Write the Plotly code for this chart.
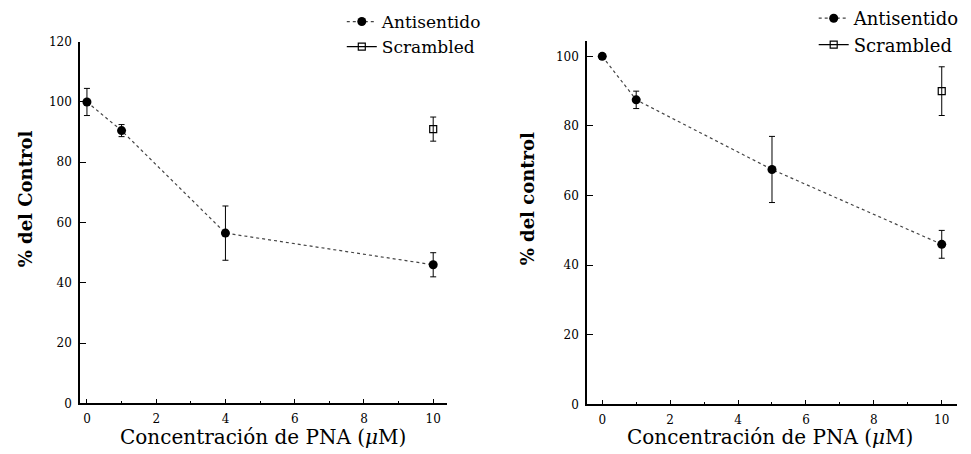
import plotly.graph_objects as go

# Left panel data
left_x_anti = [0, 1, 4, 10]
left_y_anti = [100, 90.5, 56.5, 46]
left_err_anti = [4.5, 2, 9, 4]
left_x_scr = [10]
left_y_scr = [91]
left_err_scr = [4]

# Right panel data
right_x_anti = [0, 1, 5, 10]
right_y_anti = [100, 87.5, 67.5, 46]
right_err_anti = [0.8, 2.5, 9.5, 4]
right_x_scr = [10]
right_y_scr = [90]
right_err_scr = [7]

series_names = ["Antisentido", "Scrambled"]
x_title = "Concentración de PNA (<i>μ</i>M)"
left_y_title = "% del Control"
right_y_title = "% del control"

SERIF = "DejaVu Serif, Liberation Serif, serif"
fig = go.Figure()

def add_panel(xa, ya, xs, ys, ea, es, xref, yref, legend):
    fig.add_trace(go.Scatter(
        x=xa, y=ya, mode="lines+markers", xaxis=xref, yaxis=yref,
        name=series_names[0], legend=legend,
        line=dict(color="#444444", width=1.2, dash="dot"),
        marker=dict(symbol="circle", size=9, color="black"),
        error_y=dict(type="data", array=ea, visible=True, color="black", thickness=1, width=3),
        cliponaxis=False))
    fig.add_trace(go.Scatter(
        x=xs, y=ys, mode="lines+markers", xaxis=xref, yaxis=yref,
        name=series_names[1], legend=legend,
        line=dict(color="black", width=1.2),
        marker=dict(symbol="square-open", size=7, color="black", line=dict(width=1.2)),
        error_y=dict(type="data", array=es, visible=True, color="black", thickness=1, width=3),
        cliponaxis=False))

add_panel(left_x_anti, left_y_anti, left_x_scr, left_y_scr, left_err_anti, left_err_scr, "x", "y", "legend")
add_panel(right_x_anti, right_y_anti, right_x_scr, right_y_scr, right_err_anti, right_err_scr, "x2", "y2", "legend2")

def xaxis_cfg(domain, rng):
    return dict(domain=domain, range=rng, showline=True, linecolor="black", linewidth=1.5,
                ticks="inside", ticklen=5, tickcolor="black", tickvals=[0, 2, 4, 6, 8, 10],
                minor=dict(ticks="inside", ticklen=3, dtick=1, tickcolor="black"),
                showgrid=False, zeroline=False, tickfont=dict(family=SERIF, size=12, color="black"),
                ticklabelstandoff=3, automargin=False)

def yaxis_cfg(domain, rng, anchor, tickvals):
    return dict(domain=domain, range=rng, anchor=anchor, showline=True, linecolor="black", linewidth=1.5,
                ticks="inside", ticklen=6, tickcolor="black", tickvals=tickvals,
                showgrid=False, zeroline=False, tickfont=dict(family=SERIF, size=12, color="black"),
                ticklabelstandoff=4, automargin=False)

fig.update_layout(
    width=971, height=454, margin=dict(l=0, r=0, t=0, b=0),
    paper_bgcolor="white", plot_bgcolor="white",
    xaxis=dict(**xaxis_cfg([0.0824, 0.4604], [-0.2, 10.4]), anchor="y"),
    yaxis=yaxis_cfg([0.1123, 0.9163], [0, 120], "x", [0, 20, 40, 60, 80, 100, 120]),
    xaxis2=dict(**xaxis_cfg([0.6045, 0.9856], [-0.45, 10.45]), anchor="y2"),
    yaxis2=yaxis_cfg([0.1101, 0.9185], [0, 104.5], "x2", [0, 20, 40, 60, 80, 100]),
    legend=dict(x=0.352, y=1.0, xanchor="left", yanchor="top", bgcolor="rgba(0,0,0,0)",
                font=dict(family=SERIF, size=17, color="black"), tracegroupgap=0, itemwidth=30),
    legend2=dict(x=0.838, y=1.01, xanchor="left", yanchor="top", bgcolor="rgba(0,0,0,0)",
                 font=dict(family=SERIF, size=18, color="black"), tracegroupgap=0, itemwidth=30),
    annotations=[
        dict(text=x_title, x=0.271, y=0.037, xref="paper", yref="paper", showarrow=False,
             xanchor="center", yanchor="middle",
             font=dict(family=SERIF, size=20, color="black")),
        dict(text=x_title, x=0.793, y=0.037, xref="paper", yref="paper", showarrow=False,
             xanchor="center", yanchor="middle",
             font=dict(family=SERIF, size=20, color="black")),
        dict(text="<b>" + left_y_title + "</b>", x=25 / 971, y=0.566, xref="paper", yref="paper",
             xanchor="center", yanchor="middle",
             showarrow=False, textangle=-90, font=dict(family=SERIF, size=18, color="black")),
        dict(text="<b>" + right_y_title + "</b>", x=527 / 971, y=0.566, xref="paper", yref="paper",
             xanchor="center", yanchor="middle",
             showarrow=False, textangle=-90, font=dict(family=SERIF, size=18, color="black")),
    ],
)

fig.write_html("out.html")
